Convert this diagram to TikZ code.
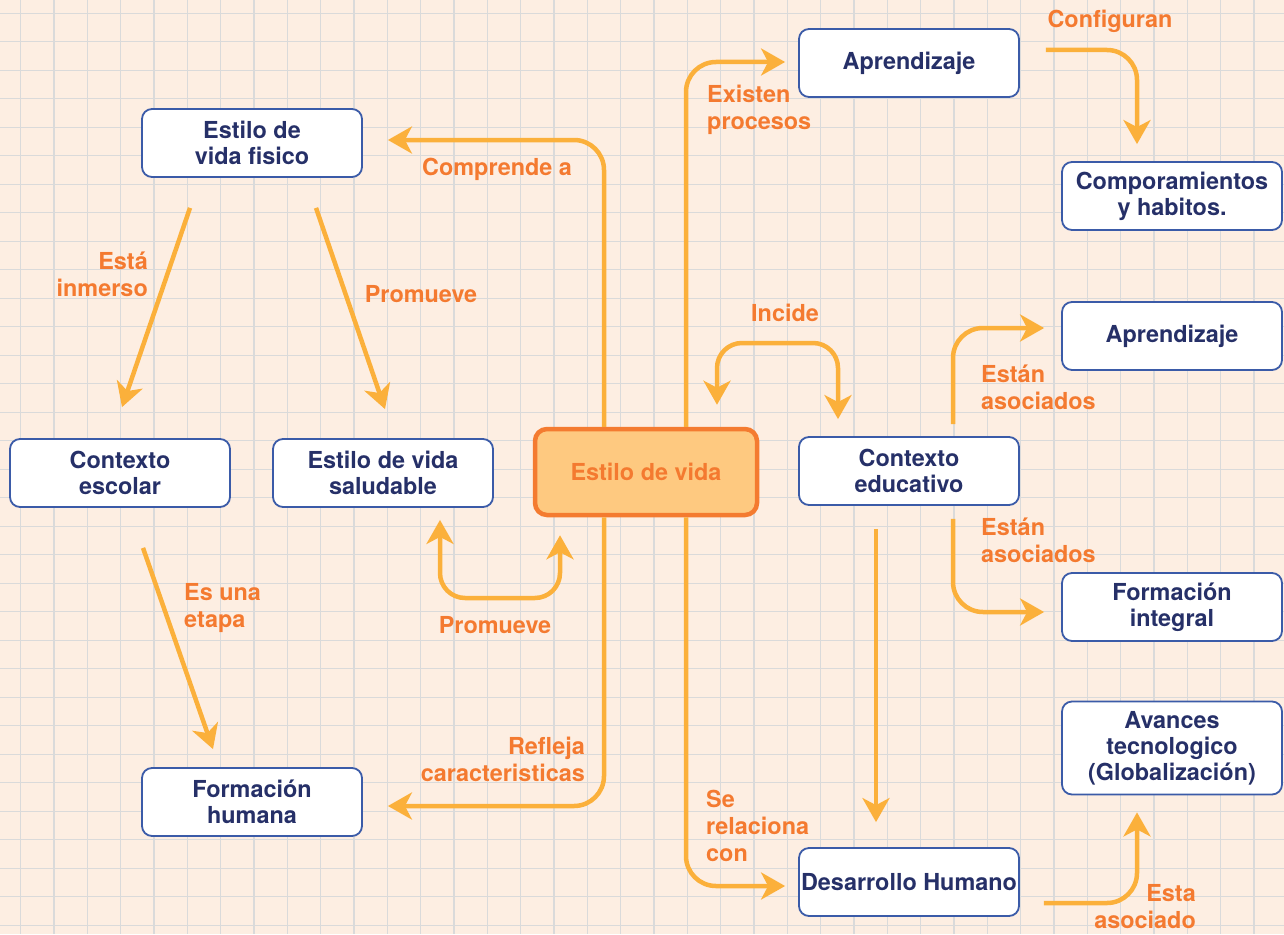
\documentclass[tikz,border=0pt]{standalone}
\usepackage{fontspec}
\setmainfont{TeX Gyre Heros}
\usetikzlibrary{arrows.meta}
\definecolor{paper}{RGB}{253,238,226}
\definecolor{gridc}{RGB}{218,218,218}
\definecolor{boxline}{RGB}{59,91,168}
\definecolor{boxtext}{RGB}{38,48,104}
\definecolor{arrowc}{RGB}{251,176,59}
\definecolor{labelc}{RGB}{244,122,48}
\definecolor{mainfill}{RGB}{254,201,128}
\definecolor{mainline}{RGB}{244,123,48}

\begin{document}
\begin{tikzpicture}[x=1pt,y=-1pt,
    >={Stealth[length=24pt,width=27pt,inset=7pt]},
    concept/.style={draw=boxline,line width=1.8pt,fill=white,rounded corners=10pt,
      minimum width=220pt,minimum height=68pt,inner sep=0pt,align=center,
      text=boxtext,font=\fontsize{23.4}{26}\selectfont\bfseries},
    main/.style={draw=mainline,line width=4.5pt,fill=mainfill,text=labelc,
      rounded corners=12pt,minimum width=222pt,minimum height=86pt,inner sep=0pt,
      font=\fontsize{23.4}{26}\selectfont\bfseries},
    lbl/.style={text=labelc,inner sep=0pt,font=\fontsize{23.4}{27}\selectfont\bfseries},
    link/.style={draw=arrowc,line width=4.5pt,rounded corners=30pt,->},
    biway/.style={link,<->}]
  \fill[paper] (0,0) rectangle (1284,934);
  \useasboundingbox (0,0) rectangle (1284,934);
  \foreach \k in {0,...,37}
    \draw[gridc,line width=1.2pt] (20.7+33.33*\k,0) -- (20.7+33.33*\k,934);
  \foreach \k in {0,...,32}
    \draw[gridc,line width=1.2pt] (0,13.3+28.5*\k) -- (1284,13.3+28.5*\k);

  \node[main]    (vida)  at (646,472)  {\bfseries Estilo de vida};
  \node[concept] (fis)   at (252,143)  {Estilo de\\vida fisico};
  \node[concept] (esc)   at (120,473)  {Contexto\\escolar};
  \node[concept] (sal)   at (383,473)  {Estilo de vida\\saludable};
  \node[concept] (fhum)  at (252,802)  {Formación\\humana};
  \node[concept] (apr_1) at (909,63)   {Aprendizaje};
  \node[concept] (comp)  at (1172,196) {Comporamientos\\y habitos.};
  \node[concept] (apr_2) at (1172,336) {Aprendizaje};
  \node[concept] (educ)  at (909,471)  {Contexto\\educativo};
  \node[concept] (fint)  at (1172,607) {Formación\\integral};
  \node[concept,minimum height=93pt] (avan) at (1172,748) {Avances\\tecnologico\\(Globalización)};
  \node[concept] (dhum)  at (909,882)  {Desarrollo Humano};

  \node[lbl] (l_comp) at (497,169) {Comprende a};
  \node[lbl,anchor=east,align=right] (l_inm) at (148,274) {Está\\inmerso};
  \node[lbl] (l_pro_1) at (421,294) {Promueve};
  \node[lbl] (l_pro_2) at (495,625) {Promueve};
  \node[lbl,anchor=west,align=left] (l_eta) at (184,608) {Es una\\etapa};
  \node[lbl,anchor=east,align=right] (l_ref) at (585,759) {Refleja\\caracteristicas};
  \node[lbl,anchor=west,align=left] (l_exi) at (707,110) {Existen\\procesos};
  \node[lbl] (l_conf) at (1110,21) {Configuran};
  \node[lbl] (l_inc) at (785,313) {Incide};
  \node[lbl,anchor=west,align=left] (l_aso_1) at (981,387) {Están\\asociados};
  \node[lbl,anchor=west,align=left] (l_aso_2) at (981,540) {Están\\asociados};
  \node[lbl,anchor=west,align=left] (l_rel) at (706,826) {Se\\relaciona\\con};
  \node[lbl,anchor=east,align=right] (l_esta) at (1196,907) {Esta\\asociado};

  \draw[link] ([xshift=-42pt]vida.north) |- ([xshift=25pt,yshift=3pt]fis.east);
  \draw[link] ([xshift=-42pt]vida.south) |- ([xshift=25pt,yshift=-4pt]fhum.east);
  \draw[link] ([xshift=40pt]vida.north) |- ([xshift=-13pt,yshift=1pt]apr_1.west);
  \draw[link] ([xshift=40pt]vida.south) |- ([xshift=-13pt,yshift=-4pt]dhum.west);
  \draw[biway,rounded corners=25pt] ([xshift=71pt,yshift=22pt]vida.north) |- (777,343) -| ([xshift=-71pt,yshift=17pt]educ.north);
  \draw[biway,rounded corners=25pt] ([xshift=57pt,yshift=-12pt]sal.south) |- (500,598) -| ([xshift=-86pt,yshift=-18pt]vida.south);
  \draw[link] ([xshift=26pt,yshift=13pt]apr_1.east) -| ([xshift=-35pt,yshift=17pt]comp.north);
  \draw[link] ([xshift=44pt,yshift=12pt]educ.north) |- ([xshift=-17pt,yshift=8pt]apr_2.west);
  \draw[link] ([xshift=44pt,yshift=-13pt]educ.south) |- ([xshift=-17pt,yshift=-5pt]fint.west);
  \draw[link] ([xshift=-33pt,yshift=-23pt]educ.south) -- ([xshift=-33pt,yshift=25pt]dhum.north);
  \draw[link] ([xshift=24pt,yshift=-21pt]dhum.east) -| ([xshift=-35pt,yshift=-17pt]avan.south);
  \draw[link] ([xshift=-62pt,yshift=-30pt]fis.south) -- ([xshift=2pt,yshift=31pt]esc.north);
  \draw[link] ([xshift=64pt,yshift=-30pt]fis.south) -- ([xshift=2pt,yshift=29pt]sal.north);
  \draw[link] ([xshift=23pt,yshift=-40pt]esc.south) -- ([xshift=-39pt,yshift=18pt]fhum.north);
\end{tikzpicture}
\end{document}
